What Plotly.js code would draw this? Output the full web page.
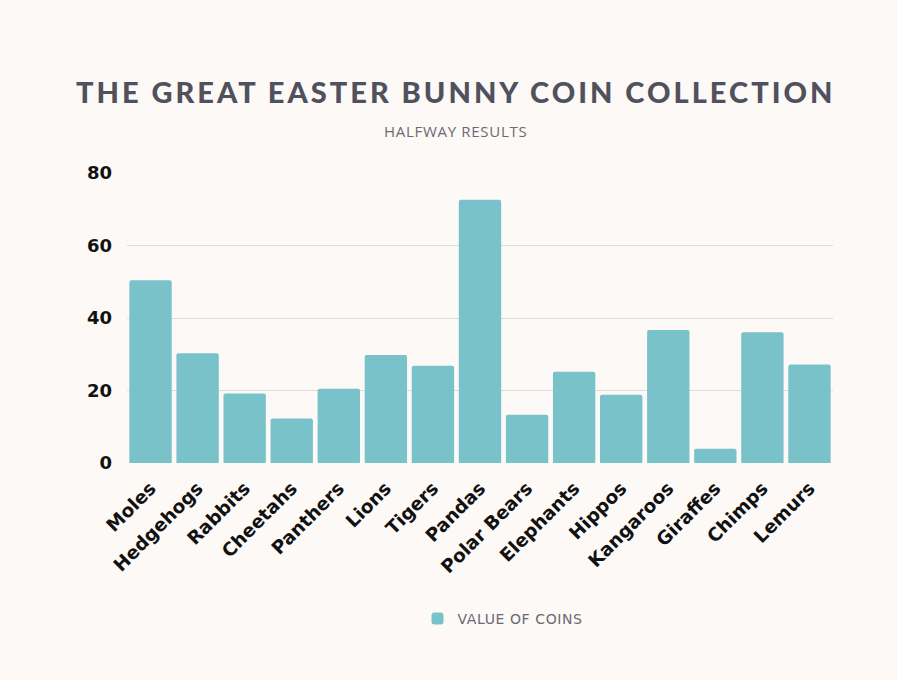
<!DOCTYPE html>
<html>
<head>
<meta charset="utf-8">
<script src="https://cdn.plot.ly/plotly-3.0.1.min.js"></script>
<style>
  html, body { margin: 0; padding: 0; background: #ffffff; }
  #chart { width: 897px; height: 680px; }
  .gtitle { letter-spacing: 3px; }
  .annotation-text { letter-spacing: 0.7px; }
  .legendtext { letter-spacing: 0.6px; }
</style>
</head>
<body>
<div id="chart"></div>
<script>
const animals = ["Moles", "Hedgehogs", "Rabbits", "Cheetahs", "Panthers", "Lions", "Tigers", "Pandas",
  "Polar Bears", "Elephants", "Hippos", "Kangaroos", "Giraffes", "Chimps", "Lemurs"];
const coinValues = [50.4, 30.3, 19.2, 12.3, 20.5, 29.8, 26.8, 72.6, 13.3, 25.2, 18.8, 36.7, 3.9, 36.1, 27.2];
const yTicks = [0, 20, 40, 60, 80];
const seriesName = "VALUE OF COINS";
const chartTitle = "THE GREAT EASTER BUNNY COIN COLLECTION";
const chartSubtitle = "HALFWAY RESULTS";

const trace = {
  type: "bar",
  x: animals,
  y: coinValues,
  name: seriesName,
  showlegend: true,
  marker: { color: "#79c2ca", cornerradius: 2 },
  hoverinfo: "x+y"
};

const layout = {
  width: 897,
  height: 680,
  paper_bgcolor: "#fcf9f7",
  plot_bgcolor: "#fcf9f7",
  margin: { l: 127, r: 64, t: 173, b: 217 },
  bargap: 0.1,
  title: {
    text: chartTitle,
    x: 0.508, xanchor: "center",
    y: 1 - 93 / 680, yanchor: "middle", yref: "container",
    font: { family: "Lato, sans-serif", size: 29, weight: 900, color: "#50515d" }
  },
  annotations: [{
    text: chartSubtitle,
    xref: "paper", yref: "paper",
    x: (455 - 127) / 706, y: (463 - 131) / 290,
    xanchor: "center", yanchor: "middle",
    showarrow: false,
    font: { family: "Open Sans, sans-serif", size: 15, color: "#6a6a70" }
  }],
  xaxis: {
    type: "category",
    tickangle: -45,
    tickfont: { family: "DejaVu Sans, sans-serif", size: 18.5, weight: 700, color: "#111111" },
    showgrid: false,
    zeroline: false,
    showline: false,
    ticks: "",
    ticklabelstandoff: 10
  },
  yaxis: {
    range: [0, 80],
    tickvals: yTicks,
    ticktext: yTicks.map(String),
    tickfont: { family: "DejaVu Sans, sans-serif", size: 18, weight: 700, color: "#111111" },
    showgrid: true,
    gridcolor: "#dedcdb",
    gridwidth: 1,
    zeroline: false,
    showline: false,
    ticks: "",
    ticklabelstandoff: 14
  },
  legend: {
    orientation: "h",
    x: (503 - 127) / 706, xanchor: "center",
    y: (463 - 619) / 290, yanchor: "middle",
    font: { family: "DejaVu Sans, sans-serif", size: 14, color: "#6a6a70" },
    bgcolor: "rgba(0,0,0,0)"
  },
  showlegend: true
};

Plotly.newPlot("chart", [trace], layout, { displayModeBar: false, responsive: false });
</script>
</body>
</html>
